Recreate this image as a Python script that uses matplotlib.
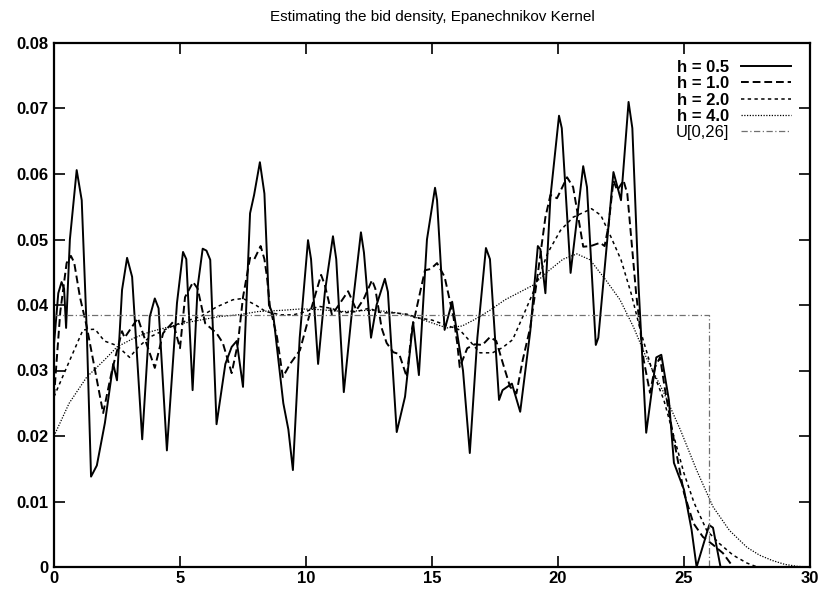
import matplotlib
matplotlib.use('Agg')
import matplotlib.pyplot as plt

# ── Datos ────────────────────────────────────────────────────────────────
h05_x = [0.0, 0.17, 0.3, 0.4, 0.48, 0.63, 0.9, 1.1, 1.3, 1.47, 1.7, 2.02,
         2.35, 2.5, 2.7, 2.9, 3.1, 3.5, 3.8, 4.0, 4.15, 4.48, 4.88, 5.12,
         5.25, 5.5, 5.7, 5.9, 6.05, 6.2, 6.45, 6.8, 7.05, 7.25, 7.5, 7.78,
         7.94, 8.17, 8.35, 8.53, 8.7, 9.1, 9.3, 9.48, 9.75, 10.08, 10.2,
         10.48, 10.75, 11.07, 11.2, 11.5, 11.85, 12.18, 12.3, 12.58, 12.8,
         13.13, 13.25, 13.6, 13.93, 14.25, 14.48, 14.8, 15.12, 15.2, 15.5,
         15.8, 16.23, 16.5, 16.8, 17.14, 17.3, 17.66, 17.8, 18.17, 18.5,
         18.9, 19.2, 19.3, 19.5, 19.7, 20.04, 20.15, 20.5, 21.0, 21.15,
         21.5, 21.6, 22.2, 22.5, 22.8, 22.95, 23.2, 23.5, 23.9, 24.1, 24.4,
         24.6, 25.0, 25.3, 25.5, 26.0, 26.15, 26.45, 27.0, 30.0]
h05_y = [0.034, 0.0418, 0.0435, 0.0425, 0.0365, 0.050, 0.0606, 0.056, 0.036,
         0.0138, 0.0155, 0.022, 0.031, 0.0285, 0.0423, 0.0472, 0.0443,
         0.0195, 0.0382, 0.041, 0.0395, 0.0178, 0.0403, 0.0481, 0.047,
         0.027, 0.0428, 0.0486, 0.0483, 0.0469, 0.0218, 0.031, 0.0336,
         0.0345, 0.0275, 0.054, 0.0568, 0.0618, 0.057, 0.040, 0.0385, 0.025,
         0.021, 0.0148, 0.035, 0.0499, 0.047, 0.031, 0.042, 0.0505, 0.047,
         0.0267, 0.040, 0.0511, 0.048, 0.035, 0.040, 0.044, 0.042, 0.0206,
         0.026, 0.0374, 0.0293, 0.050, 0.0579, 0.056, 0.0362, 0.0405, 0.030,
         0.0174, 0.035, 0.0487, 0.047, 0.0255, 0.027, 0.028, 0.0237, 0.036,
         0.049, 0.0485, 0.0418, 0.0565, 0.0689, 0.067, 0.0449, 0.0612, 0.058,
         0.0339, 0.035, 0.0603, 0.056, 0.071, 0.067, 0.0427, 0.0205, 0.032,
         0.0324, 0.0255, 0.0159, 0.0118, 0.0057, 0.0, 0.0064, 0.006, 0.0,
         0.0, 0.0]

h10_x = [0.0, 0.25, 0.5, 0.67, 0.8, 1.03, 1.3, 1.63, 1.95, 2.3, 2.7, 2.8,
         3.33, 3.5, 4.0, 4.33, 4.72, 5.0, 5.2, 5.52, 5.7, 6.0, 6.45, 6.7,
         7.05, 7.3, 7.5, 7.78, 7.95, 8.2, 8.35, 8.45, 8.57, 8.85, 9.08,
         9.37, 9.76, 10.16, 10.6, 10.75, 11.03, 11.3, 11.67, 11.8, 12.0,
         12.3, 12.62, 12.75, 13.0, 13.2, 13.46, 13.7, 14.0, 14.2, 14.4,
         14.72, 14.95, 15.2, 15.5, 15.7, 15.85, 16.0, 16.1, 16.4, 16.7,
         17.0, 17.3, 17.55, 17.82, 18.1, 18.35, 18.6, 18.9, 19.15, 19.5,
         19.7, 19.96, 20.36, 20.6, 20.87, 21.0, 21.3, 21.67, 21.85, 22.0,
         22.2, 22.35, 22.6, 22.75, 23.1, 23.4, 23.65, 23.85, 24.05, 24.25,
         24.6, 25.0, 25.37, 25.75, 26.15, 26.55, 26.95, 30.0]
h10_y = [0.026, 0.039, 0.0464, 0.0475, 0.0465, 0.0412, 0.0367, 0.030, 0.0235,
         0.030, 0.036, 0.035, 0.038, 0.036, 0.0304, 0.0357, 0.0374, 0.0334,
         0.0412, 0.0435, 0.0425, 0.0372, 0.0357, 0.0342, 0.0296, 0.0342,
         0.0412, 0.0472, 0.047, 0.049, 0.047, 0.0443, 0.0397, 0.0351, 0.029,
         0.031, 0.0331, 0.0388, 0.0446, 0.043, 0.0385, 0.040, 0.0421, 0.041,
         0.0392, 0.041, 0.0438, 0.0425, 0.0365, 0.0342, 0.0328, 0.0325,
         0.029, 0.0362, 0.0397, 0.0453, 0.0455, 0.0464, 0.0443, 0.0408,
         0.0382, 0.0342, 0.0305, 0.0334, 0.034, 0.0339, 0.0351, 0.0345,
         0.031, 0.0275, 0.0265, 0.0316, 0.0366, 0.0434, 0.0534, 0.0568,
         0.0563, 0.0595, 0.058, 0.0519, 0.0489, 0.049, 0.0495, 0.049, 0.052,
         0.059, 0.0575, 0.059, 0.057, 0.0418, 0.0316, 0.0266, 0.0305, 0.032,
         0.027, 0.0194, 0.0113, 0.0067, 0.0046, 0.0034, 0.0021, 0.0, 0.0]

h20_x = [0.0, 0.63, 1.15, 1.63, 2.0, 2.5, 3.0, 3.35, 3.8, 4.6, 5.1, 5.8,
         6.45, 7.1, 7.5, 8.0, 8.4, 9.0, 9.5, 10.0, 10.5, 11.0, 11.5, 12.0,
         12.5, 13.0, 13.5, 14.0, 14.5, 15.0, 15.5, 16.1, 16.5, 16.9, 17.4,
         17.8, 18.2, 18.6, 19.0, 19.6, 20.1, 20.6, 21.33, 21.7, 22.1, 22.5,
         22.9, 23.3, 23.7, 24.2, 24.6, 25.0, 25.4, 25.9, 26.4, 26.95, 27.5,
         27.9, 30.0]
h20_y = [0.026, 0.0316, 0.0362, 0.0363, 0.0345, 0.0338, 0.032, 0.0336,
         0.0351, 0.0366, 0.0374, 0.0382, 0.0397, 0.0408, 0.041, 0.040, 0.039,
         0.0385, 0.0385, 0.039, 0.0398, 0.0395, 0.0388, 0.039, 0.0395,
         0.0388, 0.0388, 0.0386, 0.038, 0.0377, 0.037, 0.0362, 0.0345,
         0.0327, 0.0327, 0.0335, 0.0347, 0.0382, 0.0418, 0.048, 0.0514,
         0.0534, 0.0547, 0.0537, 0.0504, 0.0469, 0.0418, 0.0357, 0.0305,
         0.0255, 0.0199, 0.0143, 0.0098, 0.0056, 0.0036, 0.0018, 0.0006,
         0.0, 0.0]

h40_x = [0.0, 0.6, 1.3, 2.0, 2.5, 3.2, 3.8, 4.5, 5.1, 5.8, 6.5, 7.3, 8.1,
         9.1, 9.8, 10.5, 11.5, 12.5, 13.3, 14.0, 14.6, 15.2, 15.6, 16.2,
         16.7, 17.3, 17.9, 18.5, 19.0, 19.56, 20.2, 20.75, 21.27, 21.9,
         22.46, 23.0, 23.5, 24.2, 24.85, 25.5, 26.15, 26.8, 27.5, 28.0, 28.5,
         29.0, 29.5, 30.0]
h40_y = [0.020, 0.025, 0.029, 0.0316, 0.0336, 0.035, 0.0359, 0.0366, 0.0372,
         0.0377, 0.0382, 0.0385, 0.039, 0.0392, 0.0394, 0.0393, 0.039,
         0.0392, 0.039, 0.0385, 0.0378, 0.037, 0.0365, 0.0368, 0.0378,
         0.0392, 0.0408, 0.042, 0.043, 0.045, 0.047, 0.0478, 0.0469, 0.0438,
         0.0408, 0.0366, 0.032, 0.0266, 0.021, 0.0148, 0.0092, 0.0056, 0.003,
         0.0018, 0.001, 0.0004, 0.0001, 0.0]

# uniforme de referencia U[0,26]
U_LO, U_HI = 0, 26
u_x = [U_LO, U_HI, U_HI]
u_y = [1 / (U_HI - U_LO), 1 / (U_HI - U_LO), 0.0]

x_ticks = [0, 5, 10, 15, 20, 25, 30]
y_ticks = [0, 0.01, 0.02, 0.03, 0.04, 0.05, 0.06, 0.07, 0.08]
y_labels = ['0', '0.01', '0.02', '0.03', '0.04', '0.05', '0.06', '0.07', '0.08']

# ── Figura ───────────────────────────────────────────────────────────────
plt.rcParams['font.family'] = ['Liberation Sans', 'DejaVu Sans']

fig = plt.figure(figsize=(8.23, 5.92), dpi=100)
ax = fig.add_axes([54 / 823, 25 / 592, 756 / 823, 524 / 592])

ax.plot(h05_x, h05_y, '-', color='black', lw=1.4, label='h = 0.5')
ax.plot(h10_x, h10_y, color='black', lw=1.4, ls=(0, (4, 2)), label='h = 1.0')
ax.plot(h20_x, h20_y, color='black', lw=1.1, ls=(0, (2.2, 2.2)), label='h = 2.0')
ax.plot(h40_x, h40_y, color='black', lw=0.9, ls=(0, (1, 1.2)), label='h = 4.0')
ax.plot(u_x, u_y, color='#707070', lw=0.9, ls=(0, (5, 2, 1, 2)), label='U[0,26]')

ax.set_xlim(0, 30)
ax.set_ylim(0, 0.08)
ax.set_xticks(x_ticks)
ax.set_xticklabels([str(t) for t in x_ticks])
ax.set_yticks(y_ticks)
ax.set_yticklabels(y_labels)
ax.tick_params(direction='in', length=8, width=1.2, top=True, right=True,
               labelsize=12, pad=4)
ax.tick_params(axis='x', pad=3)
for lbl in ax.get_xticklabels() + ax.get_yticklabels():
    lbl.set_fontweight('bold')
for sp in ax.spines.values():
    sp.set_linewidth(1.6)

ax.set_title('Estimating the bid density, Epanechnikov Kernel',
             fontsize=11, pad=16)

leg = ax.legend(loc='upper right', markerfirst=False, frameon=False,
                fontsize=12, handlelength=3.0, handletextpad=0.7,
                labelspacing=0.08, borderaxespad=0.3,
                bbox_to_anchor=(0.99, 0.99))
for t in leg.get_texts()[:4]:
    t.set_fontweight('bold')
for t in leg.get_texts():
    t.set_ha('right')

fig.savefig('out.png', dpi=100)
